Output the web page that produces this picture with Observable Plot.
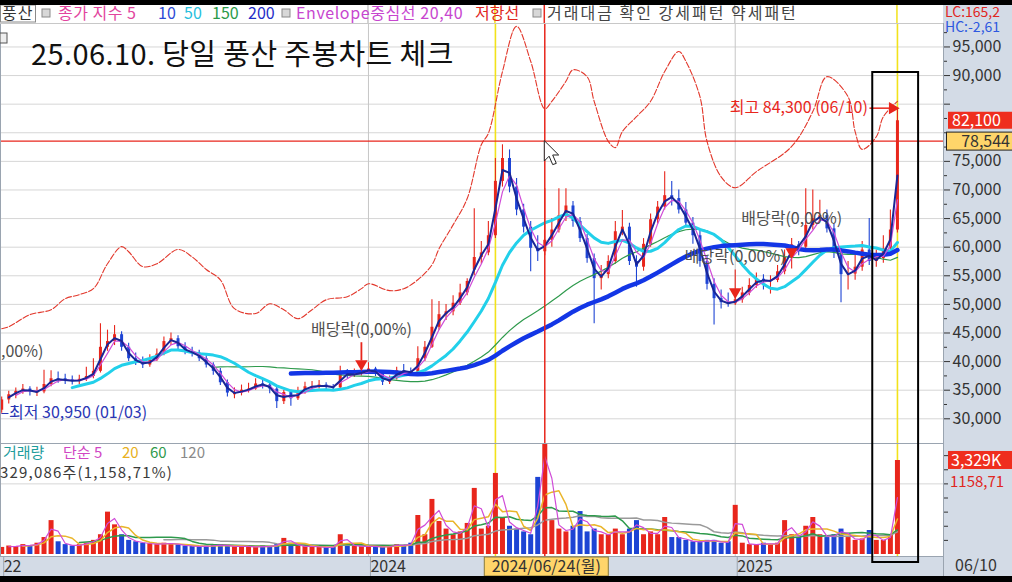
<!DOCTYPE html>
<html><head><meta charset="utf-8">
<script src="https://cdn.jsdelivr.net/npm/d3@7"></script>
<script src="https://cdn.jsdelivr.net/npm/@observablehq/plot@0.6"></script>
<style>
html,body{margin:0;padding:0;background:#000;}
#wrap{position:relative;width:1012px;height:582px;overflow:hidden;background:#000;}
#wrap svg{position:absolute;left:0;}
</style></head>
<body><div id="wrap"></div>
<script>
// ---------- data (weekly bars, index 0 = first week of 2023) ----------
const open = [
31500,33300,34200,34800,35200,34500,34700,36000,37000,37000,
36800,36500,36900,37400,38300,42500,43500,44700,42500,40500,
40000,39400,40300,41300,43500,44000,42600,41700,41500,40500,
39400,38300,36300,34200,34500,35000,35200,36100,35900,35200,
33000,34600,33500,34700,35400,35600,35900,35600,35400,37900,
37700,37800,38200,38700,37800,36400,37000,38400,38300,38000,
40500,42500,46000,48200,48700,50200,52000,56000,58200,59000,
62000,71500,75500,70500,66500,63500,59800,59200,61200,63000,
65500,67200,64500,61500,58000,54500,55200,57500,62700,63500,
57500,56500,60500,64800,67000,69000,68500,66500,64200,62000,
57500,53500,51000,50300,50100,50800,52000,53300,54400,54000,
54200,55700,58200,60400,60000,63800,65000,65500,63200,59000,
55200,55300,56500,59500,57500,58000,59700,63000];
const high = [
33800,34800,35400,36000,35600,35500,38500,38400,38200,37800,
37500,37600,39000,40500,46600,45500,46300,45200,43200,41500,
40800,41200,42200,44300,45000,44500,43300,42500,42000,41000,
39800,38800,36800,35400,35900,36200,37000,36800,36300,35600,
35000,35000,35500,36400,36500,36700,36300,36000,39200,38600,
38700,39200,39800,39000,38100,37500,39000,39500,38900,42600,
43500,50800,50500,50000,51500,53500,54500,66700,61000,64500,
75500,77900,77000,72000,67500,64500,62000,70200,65000,70200,
70200,68000,65200,62200,58800,56800,58500,64500,66400,64200,
58500,61500,65800,68000,73200,71500,70000,67800,65200,63000,
58500,54500,52500,52000,56000,53000,54500,55500,55200,55000,
56800,59500,61500,61000,70200,70000,68200,66500,64000,59800,
57500,58800,61000,65000,59500,62000,66500,84300];
const low = [
30950,32600,33500,34300,34000,33900,34400,35600,36200,36000,
35900,36000,36500,37000,38000,41800,42800,41800,40000,39300,
38800,39000,40000,41000,42800,42000,41200,40800,40000,38900,
37600,35800,33800,33500,34000,34500,35000,35200,34400,31800,
32500,32200,33200,34300,35000,35200,35000,34800,35200,37000,
37200,37500,37900,37400,35800,36000,36800,37800,37500,37800,
40000,42300,45500,47200,48000,49800,51500,55000,57000,58500,
61500,70500,69500,65500,62500,55700,57500,58500,60000,62500,
64500,63500,60800,57200,46600,52500,54500,57000,62000,56800,
53000,55800,60000,64000,66500,67200,65800,63500,60500,56500,
52500,46400,49200,49500,49800,50200,51500,52800,52500,51800,
53800,55200,56200,58500,59500,63000,64500,62500,58000,50300,
52500,54200,55800,56800,56500,57200,59000,62500];
const close = [
33300,34200,34800,35200,34700,34700,36000,37000,36800,36800,
36500,36900,37400,38300,42500,43500,44700,42500,40500,40000,
39400,40300,41300,43500,44000,42600,41700,41500,40500,39400,
38300,36300,34500,34500,35000,35200,36100,35900,35200,33000,
34600,33500,34700,35600,35600,35900,35600,35400,37900,37700,
37800,38200,38700,37800,36400,37000,38400,38300,38000,40500,
42500,46000,48200,48700,50200,52000,54000,58200,59000,62000,
71500,75500,70500,66500,63500,59800,59200,61200,63000,65500,
67200,64500,61500,58000,54500,55200,57500,62700,63500,57500,
56500,60500,64800,67000,69000,68500,66500,64200,62000,57500,
53500,51000,50300,50100,50800,52000,53300,54400,54000,54200,
55700,58200,60400,60000,63800,65000,65500,63200,59000,55200,
55300,56500,59500,57500,58000,59700,63000,82100];
// volume, thousand shares
const volume = [
250,300,280,350,300,400,600,1200,450,350,
300,350,400,500,700,1500,1050,700,500,450,
400,380,350,400,380,350,300,300,280,300,
320,350,300,280,300,280,260,300,280,350,
570,400,300,280,300,250,250,260,700,350,
300,280,300,280,250,300,350,300,400,1380,
700,1950,1170,900,700,800,1100,2340,900,1000,
2870,1300,1000,900,800,700,2730,4200,1200,900,
800,1000,1520,800,900,700,700,900,700,900,
1200,700,800,700,1310,600,600,500,450,450,
500,500,400,450,1740,400,350,350,400,350,
400,1200,700,600,1000,1310,700,600,700,900,
600,500,550,850,500,500,700,3329];
// resistance line (저항선)
const resIdx = [0,1,4,7,9,11,13,15,17,18,20,22,25,27,29,31,33,36,38,40,42,44,46,49,51,52,55,57,59,61,62,64,66,68,69,71,73,75,77,78,80,81,83,84,86,87,88,90,92,94,96,97,99,100,102,104,107,112,115,117,120,121,122,124,125,127];
const resVal = [45750,46100,48200,49070,51000,51700,52750,57100,60100,59200,56600,57100,59600,58300,56100,54300,49250,48400,50100,49070,47500,49070,50800,51350,52750,53600,52400,52750,54300,56900,59700,63900,68500,77900,79900,90700,98600,92500,84200,85500,89000,91000,89800,85500,78500,77400,80200,82800,85500,90700,94200,92500,86300,78500,72300,70400,73200,77600,83700,89800,86300,80200,77100,79300,82800,85500];
// ticks
const priceTicks = [30000,35000,40000,45000,50000,55000,60000,65000,70000,75000,80000,85000,90000,95000];
const priceMinor = [32500,37500,42500,47500,52500,57500,62500,67500,72500,77500,82500,87500,92500,97500];
const volTicks = [2500];
const volMinor = [500,1000,1500,2000,2500,3000,3500];
const xTickIdx = [0,52,104];
const xTickLabels = ["22","2024","2025"];
// events
const markIdx = [70,127];          // yellow markers
const cursorIdx = 77, cursorPrice = 78544, cursorDate = "2024/06/24(월)";
const lastPrice = 82100, lastVol = 3329, lastDate = "06/10";
const divIdx = [51,112,104], divText = [45600,65000,58300], divMark = [39600,59200,52200];
const divLabel = "배당락(0,00%)";
const lowInfo = {i:0, p:30950, d:"01/03"}, highInfo = {i:127, p:84300, d:"06/10"};
const legendText = ["풍산","종가 지수 5","10","50","150","200","Envelope중심선 20,40","저항선","거래대금 확인 강세패턴 약세패턴"];
const volLegendText = ["거래량","단순 5","20","60","120"];
// moving-average windows in weekly bars (≈ 5,10,50,150,200 trading days at this x spacing)
const priceMA = [3, 2, 11, 31, 42];
const volMA = [2, 4, 12, 24];

// ---------- build ----------
const RED = "#e8261c", BLUE = "#1d44d4", YEL = "#f2e21a";
const FONT = "'Noto Sans CJK KR','Noto Sans',sans-serif";
const fmt = d3.format(",");
const candles = close.map((c,i)=>({i, o:open[i], h:high[i], l:low[i], c, v:volume[i], col: c>=open[i]?RED:BLUE}));
const res = resIdx.map((i,k)=>({i, v:resVal[k]}));
const divs = divIdx.map((i,k)=>({i, t:divText[k], m:divMark[k]}));
const xDomain = [-0.17, 133.53];
const ma = (k, y, stroke, w) => Plot.lineY(candles, Plot.windowY({k, anchor:"end", strict:true}, {x:"i", y, stroke, strokeWidth:w}));

const price = Plot.plot({
  width:1012, height:420, marginLeft:0, marginRight:69, marginTop:0, marginBottom:0,
  style:{background:"transparent", fontFamily:FONT, fontSize:"16px", color:"#333"},
  x:{domain:xDomain, axis:null, label:null},
  y:{domain:[25682,99100], axis:null, label:null},
  color:{type:"identity"},
  marks:[
    Plot.frame({fill:"#fff", stroke:null}),
    Plot.ruleY(priceTicks, {stroke:"#d6d6d6"}),
    Plot.ruleX(xTickIdx.slice(1), {stroke:"#c6c6c6"}),
    Plot.ruleX(markIdx, {stroke:YEL, strokeWidth:1.6}),
    Plot.line(res, {x:"i", y:"v", stroke:"#e2382c", strokeWidth:1.1, strokeDasharray:"6,2", curve:"catmull-rom"}),
    Plot.ruleX(candles, {x:"i", y1:"l", y2:"h", stroke:"col", strokeWidth:1.1}),
    Plot.ruleX(candles, {x:"i", y1:"o", y2:"c", stroke:"col", strokeWidth:3}),
    ma(priceMA[3], "c", "#2e9a4c", 1.2),
    ma(priceMA[2], "c", "#22d0ea", 3),
    ma(priceMA[4], "c", "#1336e6", 4.5),
    ma(priceMA[0], "c", "#d04cd8", 1.2),
    ma(priceMA[1], "c", "#1a2696", 2),
    Plot.ruleY([cursorPrice], {stroke:RED, strokeWidth:1.3}),
    Plot.ruleX([cursorIdx], {stroke:RED, strokeWidth:1.5}),
    Plot.ruleX([divs[0]], {x:"i", y1:d=>d.t-2300, y2:d=>d.m+500, stroke:RED, strokeWidth:1.8}),
    Plot.dot(divs, {x:"i", y:"m", symbol:"triangle", rotate:180, r:4.6, fill:RED}),
    Plot.text(divs, {x:"i", y:"t", text:()=>divLabel, fill:"#4e4e4e", fontSize:16}),
    Plot.text([{i:5.9, p:41700}], {x:"i", y:"p", text:()=>",00%)", textAnchor:"end", fill:"#4e4e4e", fontSize:16}),
    Plot.text([lowInfo], {x:()=>xDomain[0], y:"p", text:d=>`–최저 ${fmt(d.p)} (${d.d})`, textAnchor:"start", fill:"#2a36b4", fontSize:16}),
    Plot.ruleY([highInfo], {y:"p", x1:d=>d.i-3.9, x2:d=>d.i-0.7, stroke:RED, strokeWidth:1.5}),
    Plot.dot([highInfo], {x:d=>d.i-0.7, y:"p", symbol:"triangle", rotate:90, r:4.6, fill:RED}),
    Plot.text([highInfo], {x:d=>d.i-4.2, y:"p", text:d=>`최고 ${fmt(d.p)} (${d.d})`, textAnchor:"end", fill:RED, fontSize:16}),
    Plot.frame({stroke:"#9aa4b0"}),
    Plot.axisY(priceMinor, {anchor:"right", tickSize:3, tickFormat:()=>"", label:null}),
    Plot.axisY(priceTicks, {anchor:"right", tickSize:6, tickPadding:3, label:null, fontSize:16,
      tickFormat:d=> (Math.abs(d-lastPrice)<3000 || Math.abs(d-cursorPrice)<3000) ? "" : fmt(d)})
  ]
});

const vol = Plot.plot({
  width:1012, height:133, marginLeft:0, marginRight:69, marginTop:0, marginBottom:20,
  style:{background:"transparent", fontFamily:FONT, fontSize:"16px", color:"#333"},
  x:{domain:xDomain, axis:null, label:null},
  y:{domain:[0,3930], range:[111,0], axis:null, label:null},
  color:{type:"identity"},
  marks:[
    Plot.frame({fill:"#fff", stroke:null}),
    Plot.ruleY(volTicks, {stroke:"#d6d6d6"}),
    Plot.ruleX(xTickIdx.slice(1), {stroke:"#c6c6c6"}),
    Plot.ruleX(markIdx, {stroke:YEL, strokeWidth:1.6}),
    Plot.ruleX(candles, {x:"i", y1:0, y2:"v", stroke:"col", strokeWidth:5, clip:true}),
    ma(volMA[3], "v", "#9a9a9a", 1.5),
    ma(volMA[2], "v", "#2e9a4c", 1.5),
    ma(volMA[1], "v", "#eab52a", 1.5),
    ma(volMA[0], "v", "#d04cd8", 1.2),
    Plot.ruleX([cursorIdx], {stroke:RED, strokeWidth:1.5}),
    Plot.frame({stroke:"#9aa4b0"}),
    Plot.axisY(volMinor, {anchor:"right", tickSize:4, tickFormat:()=>"", label:null}),
    Plot.axisX(xTickIdx, {anchor:"bottom", tickSize:20, tickPadding:-16, textAnchor:"start", dx:2, label:null,
      tickFormat:d=>xTickLabels[xTickIdx.indexOf(d)], fontSize:16, stroke:"#9aa4b0"})
  ]
});

const wrap = d3.select("#wrap");
// base backgrounds
const base = wrap.append("svg").attr("width",1012).attr("height",582).style("top","0px");
base.append("rect").attr("x",0).attr("y",5).attr("width",1012).attr("height",571).attr("fill","#d3dbe6");
base.append("rect").attr("x",0).attr("y",5).attr("width",943).attr("height",18).attr("fill","#fff");
wrap.append(()=>price).style("top","23px");
wrap.append(()=>vol).style("top","443px");

const xs = price.scale("x"), ys = price.scale("y"), vys = vol.scale("y");
const X = v => xs.apply(v), PY = v => 23 + ys.apply(v), VY = v => 443 + vys.apply(v);
const ov = wrap.append("svg").attr("width",1012).attr("height",582).style("top","0px")
  .style("font-family", FONT);

// vertical lines through legend row
[[X(52),"#c6c6c6"],[X(104),"#c6c6c6"],[X(70),YEL],[X(127),YEL],[X(cursorIdx),RED]].forEach(([x,c])=>
  ov.append("line").attr("x1",x).attr("x2",x).attr("y1",5).attr("y2",23).attr("stroke",c).attr("stroke-width",1.5));
ov.append("line").attr("x1",0).attr("x2",943).attr("y1",23.5).attr("y2",23.5).attr("stroke","#c8c8c8");

// legend
const legPos = [2,58,158,184,212,248,296,475,547];
const legCol = ["#333","#e2449e","#2c4ad6","#27c0dd","#2b9a48","#1f2dc8","#c746cf","#e0261e","#444"];
const legLs = [1,0.5,0,0,0,0,0.6,0,2];
legendText.forEach((t,k)=> ov.append("text").attr("x",legPos[k]).attr("y",19).attr("font-size",16)
  .attr("letter-spacing",legLs[k]).attr("fill",legCol[k]).text(t));
ov.append("rect").attr("x",0.5).attr("y",5).attr("width",35).attr("height",17).attr("fill","none").attr("stroke","#8a8a8a");
[42,282,533].forEach(x=> ov.append("rect").attr("x",x).attr("y",9).attr("width",8).attr("height",8)
  .attr("fill","#d8d8d8").attr("stroke","#8a8a8a"));
ov.append("text").attr("x",945).attr("y",17).attr("font-size",14).attr("fill","#e0261e").text("LC:165,2");
ov.append("text").attr("x",945).attr("y",32).attr("font-size",14).attr("fill","#2d58e0").text("HC:-2,61");
ov.append("rect").attr("x",0).attr("y",33).attr("width",7).attr("height",10).attr("fill","#eee").attr("stroke","#555");

// title
ov.append("text").attr("x",31).attr("y",65).attr("font-size",29).attr("font-weight",400).attr("letter-spacing",0.4)
  .attr("fill","#111").text("25.06.10. 당일 풍산 주봉차트 체크");

// price axis boxes
const pb = PY(lastPrice);
ov.append("rect").attr("x",948).attr("y",pb-8.5).attr("width",64).attr("height",17).attr("fill","#ef2e1e");
ov.append("text").attr("x",952).attr("y",pb+6).attr("font-size",16).attr("fill","#fff").text(fmt(lastPrice));
const cb = PY(cursorPrice);
ov.append("rect").attr("x",946.5).attr("y",cb-8.5).attr("width",70).attr("height",18).attr("fill","#ffd56a").attr("stroke","#222");
ov.append("text").attr("x",1010).attr("y",cb+6).attr("text-anchor","end").attr("font-size",16).attr("fill","#333").text(fmt(cursorPrice));

// volume labels
const vlPos = [3,63,122,150,180];
const vlCol = ["#1f9d9d","#d046c4","#e8b020","#2f9a4c","#8a8a8a"];
volLegendText.forEach((t,k)=> ov.append("text").attr("x",vlPos[k]).attr("y",458).attr("font-size",15).attr("fill",vlCol[k]).text(t));
ov.append("text").attr("x",0).attr("y",478).attr("font-size",15).attr("letter-spacing",1.2).attr("fill","#3a3a3a").text("329,086주(1,158,71%)");
const vb = VY(lastVol);
ov.append("rect").attr("x",948).attr("y",vb-9).attr("width",64).attr("height",18).attr("fill","#ef2e1e");
ov.append("text").attr("x",951).attr("y",vb+6).attr("font-size",16).attr("fill","#fff").text("3,329K");
ov.append("text").attr("x",950).attr("y",vb+27).attr("font-size",15).attr("fill","#e0261e").text("1158,71");

// x band extras
ov.append("line").attr("x1",943.5).attr("x2",943.5).attr("y1",556).attr("y2",576).attr("stroke","#9aa4b0");
ov.append("text").attr("x",955).attr("y",571).attr("font-size",16).attr("fill","#333").text(lastDate);
const cx = X(cursorIdx);
ov.append("rect").attr("x",cx-60).attr("y",557).attr("width",124).attr("height",19).attr("fill","#ffd56a").attr("stroke","#8a7a3a");
ov.append("text").attr("x",cx+2).attr("y",572).attr("text-anchor","middle").attr("font-size",16).attr("fill","#333").text(cursorDate);

// highlight box
ov.append("rect").attr("x",X(123.5)).attr("y",72).attr("width",X(130)-X(123.5)).attr("height",490)
  .attr("fill","none").attr("stroke","#000").attr("stroke-width",2);

// mouse pointer
const mx = X(cursorIdx), my = PY(cursorPrice);
ov.append("polygon").attr("points",[[0,0],[0,17],[4,13],[7,20],[10,19],[7,12],[12,12]].map(p=>[mx+p[0]*1.2,my+p[1]*1.2].join(",")).join(" "))
  .attr("fill","#fff").attr("stroke","#222").attr("stroke-width",1);

// black strips
ov.append("rect").attr("x",0).attr("y",0).attr("width",1012).attr("height",5).attr("fill","#000");
ov.append("rect").attr("x",0).attr("y",576).attr("width",1012).attr("height",6).attr("fill","#000");
</script></body></html>
